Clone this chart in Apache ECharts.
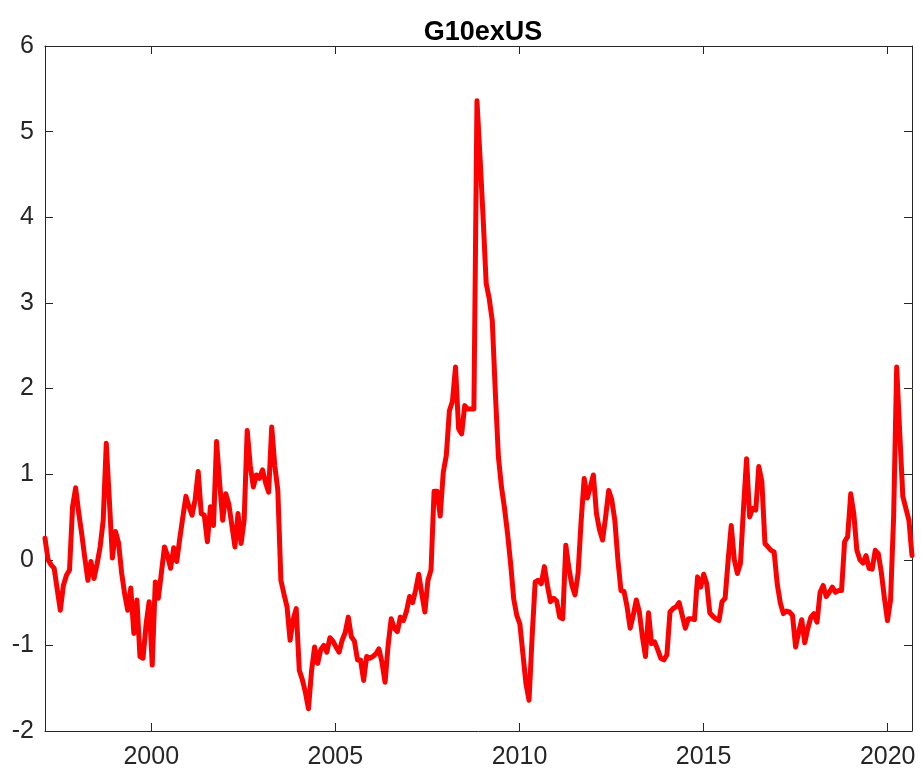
<!DOCTYPE html>
<html>
<head>
<meta charset="utf-8">
<title>G10exUS</title>
<script src="https://cdn.jsdelivr.net/npm/echarts@6/dist/echarts.min.js"></script>
<style>
html,body{margin:0;padding:0;background:#fff}
#chart{width:921px;height:776px}
</style>
</head>
<body>
<div id="chart"></div>
<script>
// monthly readings, first point at START, last at END
var START = 1997.114
var END = 2020.66
var yearTicks = [2000, 2005, 2010, 2015, 2020]
var yTicks = [-2, -1, 0, 1, 2, 3, 4, 5, 6]
var g10exUS = [
    0.25, 0.00, -0.06, -0.10, -0.35, -0.59, -0.30, -0.18, -0.12, 0.62, 0.84, 0.55,
    0.30, 0.02, -0.24, -0.02, -0.22, -0.05, 0.15, 0.46, 1.36, 0.70, 0.02, 0.33,
    0.20, -0.15, -0.40, -0.59, -0.33, -0.86, -0.47, -1.13, -1.15, -0.75, -0.49, -1.23,
    -0.26, -0.45, -0.15, 0.15, 0.05, -0.10, 0.14, -0.02, 0.25, 0.50, 0.74, 0.62,
    0.52, 0.70, 1.03, 0.54, 0.52, 0.21, 0.62, 0.40, 1.38, 0.90, 0.46, 0.77,
    0.65, 0.40, 0.15, 0.54, 0.19, 0.46, 1.51, 1.10, 0.85, 0.99, 0.95, 1.05,
    0.90, 0.79, 1.55, 1.10, 0.81, -0.24, -0.40, -0.55, -0.94, -0.70, -0.57, -1.29,
    -1.40, -1.55, -1.74, -1.30, -1.02, -1.21, -1.05, -1.00, -1.08, -0.91, -0.95, -1.02,
    -1.08, -0.94, -0.85, -0.67, -0.90, -0.95, -1.17, -1.17, -1.41, -1.13, -1.15, -1.13,
    -1.10, -1.04, -1.20, -1.43, -1.00, -0.69, -0.80, -0.84, -0.67, -0.71, -0.60, -0.43,
    -0.50, -0.35, -0.17, -0.40, -0.61, -0.24, -0.12, 0.80, 0.80, 0.51, 1.02, 1.22,
    1.74, 1.85, 2.25, 1.53, 1.47, 1.80, 1.76, 1.76, 1.76, 5.36, 4.70, 4.00,
    3.23, 3.05, 2.79, 1.95, 1.20, 0.85, 0.60, 0.30, -0.05, -0.46, -0.65, -0.75,
    -1.10, -1.45, -1.64, -0.90, -0.26, -0.24, -0.28, -0.08, -0.30, -0.49, -0.45, -0.48,
    -0.67, -0.69, 0.17, -0.10, -0.30, -0.41, -0.16, 0.45, 0.95, 0.72, 0.85, 0.99,
    0.54, 0.35, 0.23, 0.50, 0.81, 0.70, 0.46, 0.00, -0.36, -0.37, -0.55, -0.80,
    -0.65, -0.47, -0.61, -0.90, -1.13, -0.62, -0.98, -0.96, -1.05, -1.15, -1.17, -1.11,
    -0.61, -0.57, -0.55, -0.50, -0.65, -0.80, -0.69, -0.69, -0.70, -0.20, -0.32, -0.17,
    -0.28, -0.62, -0.66, -0.69, -0.71, -0.49, -0.45, 0.00, 0.40, 0.00, -0.16, -0.04,
    0.60, 1.18, 0.50, 0.60, 0.58, 1.09, 0.91, 0.19, 0.15, 0.11, 0.09, -0.28,
    -0.50, -0.63, -0.60, -0.61, -0.65, -1.02, -0.85, -0.70, -0.97, -0.80, -0.67, -0.63,
    -0.73, -0.38, -0.30, -0.43, -0.38, -0.32, -0.38, -0.36, -0.36, 0.21, 0.27, 0.77,
    0.54, 0.11, 0.00, -0.04, 0.05, -0.10, -0.11, 0.11, 0.07, -0.15, -0.45, -0.71,
    -0.47, 0.50, 2.25, 1.48, 0.74, 0.60, 0.46, 0.05
]

var axisColor = '#262626'
var tickFont = {color: axisColor, fontSize: 25, fontFamily: 'Liberation Sans, Arial, sans-serif'}

var make_points = function(vals){
    var step = (END - START) / (vals.length - 1)
    var pts = []
    for (var i = 0; i < vals.length; i++)
        pts.push([START + i * step, vals[i]])
    return pts
}

var chartDom = document.getElementById('chart')
var myChart = echarts.init(chartDom, null, {renderer: 'canvas'})
var option = {
    animation: false,
    backgroundColor: '#ffffff',
    title: {
        text: 'G10exUS',
        left: 478,
        textAlign: 'center',
        top: 14,
        textStyle: {color: '#000000', fontSize: 27, fontWeight: 'bold', fontFamily: 'Liberation Sans, Arial, sans-serif'}
    },
    grid: {left: 45, right: 9, top: 46, bottom: 45, containLabel: false, outerBoundsMode: 'none'},
    xAxis: [
        {
            type: 'value', min: START, max: END, position: 'bottom',
            axisLine: {show: true, onZero: false, lineStyle: {color: axisColor, width: 1}},
            axisTick: {show: true, inside: true, length: 8, customValues: yearTicks, lineStyle: {color: axisColor}},
            axisLabel: Object.assign({
                show: true, margin: 14, customValues: yearTicks,
                formatter: function(v){ return String(Math.round(v)) }
            }, tickFont),
            splitLine: {show: false}
        },
        {
            type: 'value', min: START, max: END, position: 'top',
            axisLine: {show: true, onZero: false, lineStyle: {color: axisColor, width: 1}},
            axisTick: {show: true, inside: true, length: 8, customValues: yearTicks, lineStyle: {color: axisColor}},
            axisLabel: {show: false},
            splitLine: {show: false}
        }
    ],
    yAxis: [
        {
            type: 'value', min: -2, max: 6, interval: 1, position: 'left',
            axisLine: {show: true, onZero: false, lineStyle: {color: axisColor, width: 1}},
            axisTick: {show: true, inside: true, length: 8, lineStyle: {color: axisColor}},
            axisLabel: Object.assign({show: true, margin: 11, customValues: yTicks}, tickFont),
            splitLine: {show: false}
        },
        {
            type: 'value', min: -2, max: 6, interval: 1, position: 'right',
            axisLine: {show: true, onZero: false, lineStyle: {color: axisColor, width: 1}},
            axisTick: {show: true, inside: true, length: 8, lineStyle: {color: axisColor}},
            axisLabel: {show: false},
            splitLine: {show: false}
        }
    ],
    series: [
        {
            name: 'G10exUS',
            type: 'line',
            xAxisIndex: 0,
            yAxisIndex: 0,
            data: make_points(g10exUS),
            showSymbol: false,
            symbol: 'none',
            lineStyle: {color: '#ff0000', width: 5, join: 'round', cap: 'round'}
        }
    ]
}
option && myChart.setOption(option)
</script>
</body>
</html>
